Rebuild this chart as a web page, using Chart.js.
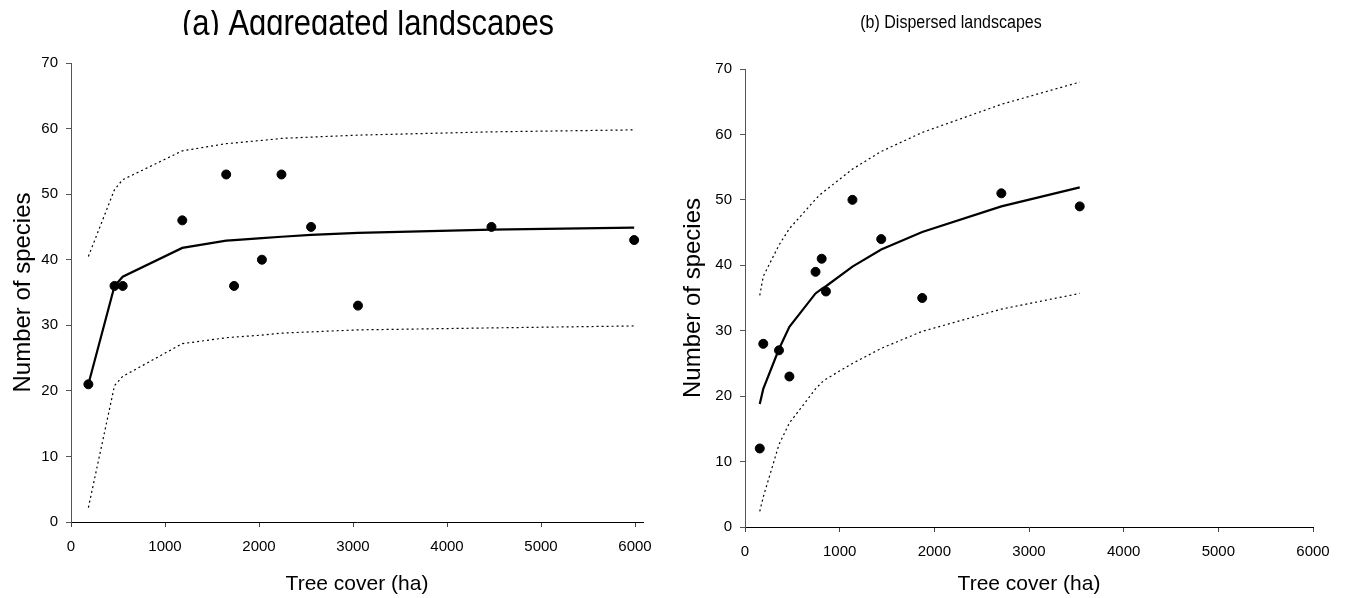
<!DOCTYPE html>
<html>
<head>
<meta charset="utf-8">
<script src="https://cdn.jsdelivr.net/npm/chart.js@4/dist/chart.umd.min.js"></script>
<style>
  body { margin: 0; background: #fff; }
  #wrap { position: relative; width: 1351px; height: 598px; overflow: hidden; }
  #left, #right { position: absolute; top: 0; }
  #left { left: 0; }
  #right { left: 675px; }
</style>
</head>
<body>
<div id="wrap">
  <canvas id="left" width="675" height="598"></canvas>
  <canvas id="right" width="676" height="598"></canvas>
</div>
<script>
// (a) aggregated landscapes
var aggCover   = [185, 463, 550, 1184, 1651, 1735, 2031, 2239, 2554, 3053, 4473, 5991];
var aggSpecies = [21, 36, 36, 46, 53, 36, 40, 53, 45, 33, 45, 43];
var aggFit     = [21, 36, 37.4, 41.8, 42.9, 43.0, 43.3, 43.5, 43.8, 44.1, 44.6, 44.9];
var aggUpper   = [40.5, 50.7, 52.2, 56.6, 57.7, 57.8, 58.2, 58.5, 58.7, 59.0, 59.5, 59.8];
var aggLower   = [2.2, 20.8, 22.2, 27.2, 28.1, 28.2, 28.5, 28.8, 29.0, 29.3, 29.6, 29.9];

// (b) dispersed landscapes
var disCover   = [156, 193, 359, 469, 745, 810, 855, 1135, 1439, 1872, 2708, 3536];
var disSpecies = [12, 28, 27, 23, 39, 41, 36, 50, 44, 35, 51, 49];
var disFit     = [18.8, 21.1, 27.2, 30.6, 35.7, 36.4, 36.8, 39.8, 42.4, 45.1, 49.0, 51.9];
var disUpper   = [35.4, 38.3, 43.1, 45.6, 50.1, 51.0, 51.5, 54.7, 57.4, 60.3, 64.6, 68.0];
var disLower   = [2.4, 4.6, 12.6, 15.9, 21.1, 22.1, 22.6, 25.0, 27.3, 29.9, 33.3, 35.7];

var xTicks = [0, 1000, 2000, 3000, 4000, 5000, 6000];
var yTicks = [0, 10, 20, 30, 40, 50, 60, 70];

var font = 'Liberation Sans, Arial, sans-serif';

function pts(xs, ys) {
    return xs.map(function(x, i){ return {x: x, y: ys[i]}; });
}

// panel title, drawn a bit tall and clipped to a band at the top
var panelTitle = {
    id: 'panelTitle',
    afterDraw: function(chart, args, o) {
        var ctx = chart.ctx;
        ctx.save();
        ctx.beginPath();
        ctx.rect(0, o.clipTop, chart.width, o.clipBottom - o.clipTop);
        ctx.clip();
        ctx.translate(o.x, o.y);
        ctx.scale(1, o.sy);
        ctx.font = o.size + 'px ' + font;
        ctx.fillStyle = '#000';
        ctx.textAlign = 'center';
        ctx.textBaseline = 'alphabetic';
        ctx.fillText(o.text, 0, 0);
        ctx.restore();
    }
};

function make_chart(id, cover, species, fit, upper, lower, cfg) {
    var ctx = document.getElementById(id).getContext('2d');
    return new Chart(ctx, {
        type: 'scatter',
        data: {
            datasets: [
                {data: pts(cover, upper), showLine: true, pointRadius: 0, borderColor: '#000',
                 borderWidth: 1.2, borderDash: [2, 3], fill: false},
                {data: pts(cover, lower), showLine: true, pointRadius: 0, borderColor: '#000',
                 borderWidth: 1.2, borderDash: [2, 3], fill: false},
                {data: pts(cover, fit), showLine: true, pointRadius: 0, borderColor: '#000',
                 borderWidth: 2.2, fill: false},
                {data: pts(cover, species), showLine: false, pointRadius: 4.5,
                 pointBackgroundColor: '#000', pointBorderColor: '#000'}
            ]
        },
        options: {
            responsive: false,
            animation: false,
            layout: {padding: {top: cfg.top, right: cfg.right, left: 0, bottom: 0}},
            plugins: {
                legend: {display: false},
                tooltip: {enabled: false},
                panelTitle: cfg.title
            },
            scales: {
                x: {
                    type: 'linear', min: 0, max: cfg.xmax,
                    afterBuildTicks: function(s){ s.ticks = xTicks.map(function(v){ return {value: v}; }); },
                    afterFit: function(s){ s.height = cfg.xh; },
                    grid: {drawOnChartArea: false, tickLength: 5, color: '#000', tickColor: '#444'},
                    border: {color: '#000', width: 1},
                    ticks: {color: '#000', padding: 11, maxRotation: 0, font: {family: font, size: 15},
                            callback: function(v){ return String(v); }},
                    title: {display: true, text: 'Tree cover (ha)', color: '#000',
                            padding: {top: 0, bottom: 1}, font: {family: font, size: 21}}
                },
                y: {
                    type: 'linear', min: 0, max: 70,
                    afterBuildTicks: function(s){ s.ticks = yTicks.map(function(v){ return {value: v}; }); },
                    afterFit: function(s){ s.width = cfg.yw; },
                    grid: {drawOnChartArea: false, tickLength: 5, color: '#555', tickColor: '#555'},
                    border: {color: '#555', width: 1},
                    ticks: {color: '#000', padding: 8, font: {family: font, size: 15},
                            callback: function(v){ return String(v); }},
                    title: {display: true, text: 'Number of species', color: '#000',
                            padding: {top: cfg.ytPad, bottom: 0}, font: {family: font, size: 24}}
                }
            }
        },
        plugins: [panelTitle]
    });
}

make_chart('left', aggCover, aggSpecies, aggFit, aggUpper, aggLower, {
    top: 63, right: 32, xh: 76, yw: 71, xmax: 6085, ytPad: 9,
    title: {text: '(a) Aggregated landscapes', x: 368, y: 35, size: 31, sy: 1.2, clipTop: 10, clipBottom: 35}
});
make_chart('right', disCover, disSpecies, disFit, disUpper, disLower, {
    top: 69, right: 38, xh: 71, yw: 70, xmax: 6000, ytPad: 4,
    title: {text: '(b) Dispersed landscapes', x: 276, y: 28, size: 16, sy: 1.1, clipTop: 0, clipBottom: 60}
});
</script>
</body>
</html>
